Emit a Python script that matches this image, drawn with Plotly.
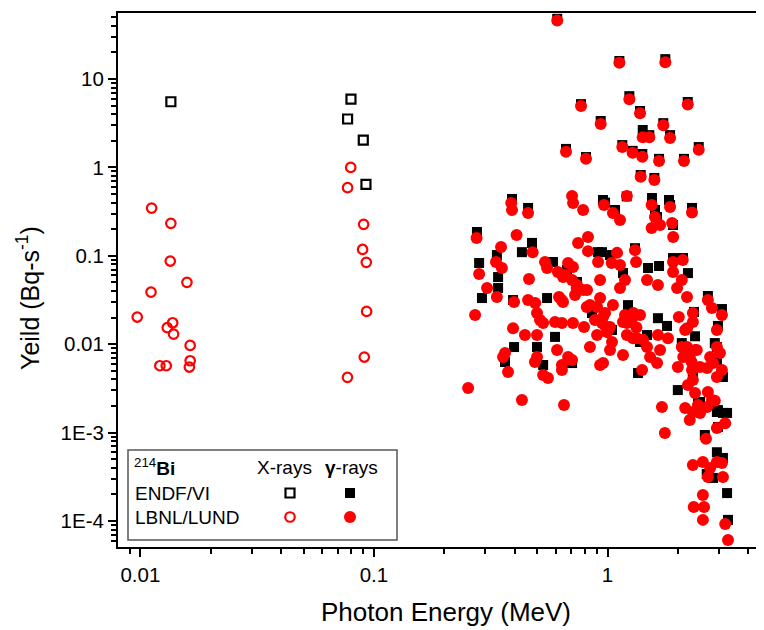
import plotly.graph_objects as go

# ---------------- data (energies in keV, yields in Bq-s^-1) ----------------
xray_endf_kev = [13.5, 79.7, 77.1, 90.0, 92.4]
xray_endf_y = [5.53, 5.94, 3.53, 2.04, 0.644]

xray_lbnl_kev = [11.17, 13.5, 13.42, 15.82, 11.1, 9.69, 13.74, 13.03, 13.87, 16.33,
                 16.33, 16.2, 12.11, 12.9, 79.5, 77.1, 90.3, 89.4, 92.7, 93.0, 90.9, 77.0]
xray_lbnl_y = [0.347, 0.233, 0.0873, 0.0501, 0.0389, 0.0203, 0.0175, 0.0154, 0.0130, 0.0097,
               0.0065, 0.00552, 0.00571, 0.00571, 1.0, 0.59, 0.227, 0.118, 0.0844, 0.0235,
               0.00716, 0.00422]

gamma_lbnl_kev = [
    609, 1124, 1768, 770, 1240, 2206, 1378, 935, 1733, 1415, 1510, 1853, 2458, 664, 1157,
    1281, 1409, 809, 1662, 2126, 1387, 1587, 705, 1210, 387, 390, 457, 712, 786, 966,
    1055, 1131, 1545, 1545, 1679, 1853, 1910, 2300, 1890, 1596, 275, 408, 350, 478, 748,
    825, 825, 911, 1098, 1311, 1325, 1908, 2100, 1042, 1131, 282, 333, 353, 461, 540,
    551, 613, 658, 678, 711, 705, 740, 929, 1188, 1131, 1476, 1644, 1908, 2080, 1985,
    305, 336, 271, 398, 457, 490, 620, 645, 726, 817, 841, 929, 902, 1055, 1188,
    1286, 1378, 2190, 2690, 2800, 3090, 2320, 2020, 976, 947, 1025, 1210, 499, 514, 530,
    596, 638, 711, 793, 394, 443, 499, 884, 957, 980, 902, 995, 1165, 1210, 1337,
    1644, 1815, 2190, 2320, 2940, 1420, 1286, 2150, 364, 357, 499, 608, 841, 1025, 1045,
    1165, 1476, 1679, 1521, 1630, 2190, 2370, 2250, 2110, 2940, 3030, 375, 489, 638, 678,
    705, 638, 929, 957, 1406, 2000, 2300, 2490, 2670, 2830, 3090, 2940, 530, 556, 2320,
    2080, 2180, 2410, 2290, 2750, 645, 738, 786, 636, 815, 1290, 1330,
    253, 430, 651, 1710, 1760, 2210, 2370, 2150, 2320, 2490, 2250, 2440, 2690, 2800, 2670,
    3190, 2940, 2640, 2320, 2560, 2750, 2940, 3090, 2690, 3120, 2560, 2340, 2590, 2560, 3190,
    3280, 2880]
gamma_lbnl_y = [
    46.0, 15.3, 15.5, 4.95, 5.9, 5.15, 4.1, 3.1, 3.0, 2.2, 2.2, 2.15, 1.58, 1.5, 1.7,
    1.47, 1.32, 1.25, 1.18, 1.18, 0.785, 0.72, 0.475, 0.475, 0.395, 0.330, 0.305, 0.395, 0.330, 0.376,
    0.305, 0.254, 0.376, 0.206, 0.223, 0.356, 0.163, 0.309, 0.235, 0.275, 0.159, 0.172, 0.126, 0.110, 0.140,
    0.163, 0.113, 0.0851, 0.108, 0.116, 0.0851, 0.0851, 0.0896, 0.083, 0.0787, 0.0622, 0.0851, 0.0728, 0.0547, 0.0851,
    0.0728, 0.0656, 0.0607, 0.0830, 0.0747, 0.0532, 0.0468, 0.0532, 0.0532, 0.0432, 0.0532, 0.0468, 0.0656, 0.0532, 0.0432,
    0.0432, 0.0342, 0.0214, 0.030, 0.0316, 0.0292, 0.0342, 0.030, 0.0361, 0.0410, 0.0277, 0.0333, 0.0264, 0.0277, 0.0214,
    0.0203, 0.0214, 0.0342, 0.0316, 0.0257, 0.0214, 0.0225, 0.0203, 0.0225, 0.0174, 0.0157, 0.0174, 0.0225, 0.0188, 0.0174,
    0.0178, 0.0174, 0.0174, 0.0157, 0.0152, 0.0127, 0.0127, 0.0188, 0.0203, 0.0160, 0.0127, 0.0137, 0.0178, 0.0127, 0.0117,
    0.0127, 0.0117, 0.0152, 0.0178, 0.0145, 0.0112, 0.0117, 0.0145, 0.00794, 0.00716, 0.00716, 0.0086, 0.00929, 0.0086, 0.0106,
    0.00755, 0.00929, 0.0086, 0.00716, 0.00612, 0.00929, 0.0086, 0.00716, 0.00716, 0.00929, 0.00794, 0.00485, 0.00629, 0.00582, 0.00716,
    0.00663, 0.00511, 0.00582, 0.00612, 0.00511, 0.00552, 0.00511, 0.00552, 0.00538, 0.00612, 0.00511, 0.00426, 0.00449, 0.00415, 0.00394,
    0.0093, 0.0079, 0.0086, 0.0063, 0.00716, 0.0575, 0.0432, 0.041, 0.0316, 0.0264, 0.0225, 0.0155,
    0.0032, 0.00234, 0.00205, 0.00195, 0.00099, 0.00345, 0.00281, 0.0019, 0.00171, 0.00167, 0.00139, 0.00205, 0.00288, 0.00234, 0.00195,
    0.00128, 0.00113, 0.00085, 0.00043, 0.000466, 0.000398, 0.000466, 0.000453, 0.000315, 0.000315, 0.000197, 0.000144, 0.000144, 0.000103, 9.25e-5,
    6.1e-5, 0.0023]

gamma_endf_kev = [
    609, 1124, 1768, 770, 1240, 2206, 1378, 935, 1733, 1415, 1510, 1853, 2458, 664, 1157,
    1281, 1409, 809, 1662, 2126, 1387, 1587, 390, 956, 1550, 1833, 1208, 976,
    457, 1077, 1597, 1628, 1853, 1908, 2300, 276, 475, 430, 911, 1025, 1311, 1908, 2105, 2210,
    282, 336, 340, 584, 671, 740, 1491, 1662, 1165, 947, 340, 290, 394, 551, 1224, 858,
    2690, 3090, 2346, 596, 1476, 1644, 1798, 2370, 2970, 1045, 398, 499, 1378, 2940, 2080,
    2880, 364, 530, 705, 1351, 2320, 2940, 3120, 2000, 2490, 2970, 3250, 2440, 2940, 3120,
    2970, 2610, 2940, 3120, 2660, 2830, 3250, 3280]
gamma_endf_y = [
    48.0, 16.0, 16.8, 5.2, 6.4, 5.5, 4.35, 3.35, 3.17, 2.65, 2.32, 2.32, 1.70, 1.62, 1.79,
    1.54, 1.42, 1.31, 1.25, 1.25, 0.82, 0.76, 0.44, 0.428, 0.451, 0.428, 0.47, 0.40,
    0.348, 0.330, 0.330, 0.275, 0.376, 0.223, 0.348, 0.186, 0.140, 0.110, 0.110, 0.102, 0.122, 0.0944, 0.0944, 0.0638,
    0.083, 0.102, 0.0575, 0.0851, 0.0691, 0.0506, 0.0728, 0.0767, 0.0638, 0.110, 0.0432, 0.0333, 0.0316, 0.0333, 0.0277, 0.0225,
    0.0351, 0.0250, 0.0232, 0.0121, 0.0127, 0.0197, 0.0161, 0.0123, 0.0161, 0.0145, 0.00929, 0.00929, 0.0106, 0.00929, 0.0103,
    0.0103, 0.00629, 0.00582, 0.00612, 0.00472, 0.00426, 0.00663, 0.00426, 0.00303, 0.00222, 0.0018, 0.00167, 0.00222, 0.00171, 0.00167,
    0.00116, 0.00094, 0.0006, 0.000517, 0.00034, 0.000307, 0.000207, 0.000103]

x_tick_vals = [0.01, 0.1, 1]
x_tick_text = ["0.01", "0.1", "1"]
y_tick_vals = [1e-4, 1e-3, 0.01, 0.1, 1, 10]
y_tick_text = ["1E-4", "1E-3", "0.01", "0.1", "1", "10"]

RED = "#ff0000"
FONT = "Liberation Sans, Arial, sans-serif"


def mev(kev_list):
    return [k / 1000.0 for k in kev_list]


fig = go.Figure()

fig.add_trace(go.Scatter(x=mev(gamma_endf_kev), y=gamma_endf_y, mode="markers",
                         marker=dict(symbol="square", size=10, color="black", line=dict(width=0)),
                         showlegend=False))
fig.add_trace(go.Scatter(x=mev(gamma_lbnl_kev), y=gamma_lbnl_y, mode="markers",
                         marker=dict(symbol="circle", size=12, color=RED, line=dict(width=0)),
                         showlegend=False))
fig.add_trace(go.Scatter(x=mev(xray_endf_kev), y=xray_endf_y, mode="markers",
                         marker=dict(symbol="square-open", size=9, color="black", line=dict(width=2.2)),
                         showlegend=False))
fig.add_trace(go.Scatter(x=mev(xray_lbnl_kev), y=xray_lbnl_y, mode="markers",
                         marker=dict(symbol="circle-open", size=9.5, color=RED, line=dict(width=2.2)),
                         showlegend=False))

minor_x = [m * 10 ** e for e in range(-3, 1) for m in range(2, 10)]
minor_y = [m * 10 ** e for e in range(-5, 2) for m in range(2, 10)]

tick_font = dict(family=FONT, size=20.5, color="black")

fig.update_xaxes(type="log", range=[-2.096, 0.670], automargin=False,
                 tickvals=x_tick_vals, ticktext=x_tick_text,
                 ticks="outside", ticklen=8, tickwidth=1.5, tickcolor="black",
                 showline=True, linecolor="black", linewidth=2, mirror=True,
                 showgrid=False, zeroline=False, tickfont=tick_font,
                 minor=dict(tickvals=minor_x, ticks="outside", ticklen=5, tickwidth=1.5,
                            tickcolor="black", showgrid=False))
fig.update_yaxes(type="log", range=[-4.294, 1.747], automargin=False,
                 tickvals=y_tick_vals, ticktext=y_tick_text,
                 ticks="outside", ticklen=8, tickwidth=1.5, tickcolor="black",
                 showline=True, linecolor="black", linewidth=2, mirror=False,
                 showgrid=False, zeroline=False, tickfont=tick_font,
                 minor=dict(tickvals=minor_y, ticks="outside", ticklen=5, tickwidth=1.5,
                            tickcolor="black", showgrid=False))

# the page body adds an 8px margin; the figure is sized to fill the rest of the window
OFF = 8
W, H = 764 - OFF, 630 - OFF
L, R, T, B = 118 - OFF, 0, 13 - OFF, 630 - 547
PW, PH = W - L - R, H - T - B


def px(x):
    """screen x (px) -> paper fraction"""
    return (x - OFF - L) / PW


def py(y):
    """screen y (px) -> paper fraction"""
    return (H - B - (y - OFF)) / PH


shapes = [dict(type="rect", xref="paper", yref="paper", x0=px(128), x1=px(397), y0=py(540), y1=py(450),
               line=dict(color="#555555", width=1.5), fillcolor="white", layer="above")]


def key(shape_type, cx, cy, half, fill, color):
    return dict(type=shape_type, xref="paper", yref="paper", xsizemode="pixel", ysizemode="pixel",
                xanchor=px(cx), yanchor=py(cy), x0=-half, x1=half, y0=-half, y1=half,
                line=dict(color=color, width=0 if fill else 2.2),
                fillcolor=color if fill else "rgba(0,0,0,0)", layer="above")


shapes += [key("rect", 290, 493, 4.5, False, "black"),
           key("rect", 350, 493, 5, True, "black"),
           key("circle", 290, 517, 4.75, False, RED),
           key("circle", 350, 517, 6, True, RED)]

lf = dict(family=FONT, size=19, color="black")
annotations = [
    dict(text="<sup>214</sup><b>Bi</b>", x=px(132), y=py(467), xanchor="left", yanchor="middle", font=lf),
    dict(text="X-rays", x=px(284), y=py(467), xanchor="center", yanchor="middle", font=lf),
    dict(text="<b>γ</b>-rays", x=px(351), y=py(467), xanchor="center", yanchor="middle", font=lf),
    dict(text="ENDF/VI", x=px(133), y=py(493), xanchor="left", yanchor="middle", font=lf),
    dict(text="LBNL/LUND", x=px(133), y=py(517), xanchor="left", yanchor="middle", font=lf),
    dict(text="Photon Energy (MeV)", x=px(446), y=py(612), xanchor="center", yanchor="middle",
         font=dict(family=FONT, size=26, color="black")),
    dict(text="Yeild (Bq-s<sup>-1</sup>)", x=px(28), y=py(298), xanchor="center", yanchor="middle",
         textangle=-90, font=dict(family=FONT, size=25, color="black")),
]
for a in annotations:
    a.update(xref="paper", yref="paper", showarrow=False)

fig.update_layout(width=W, height=H, margin=dict(l=L, r=R, t=T, b=B, pad=0, autoexpand=False),
                  paper_bgcolor="white", plot_bgcolor="white",
                  shapes=shapes, annotations=annotations, showlegend=False,
                  font=dict(family=FONT, color="black"))

fig.write_html("out.html")
